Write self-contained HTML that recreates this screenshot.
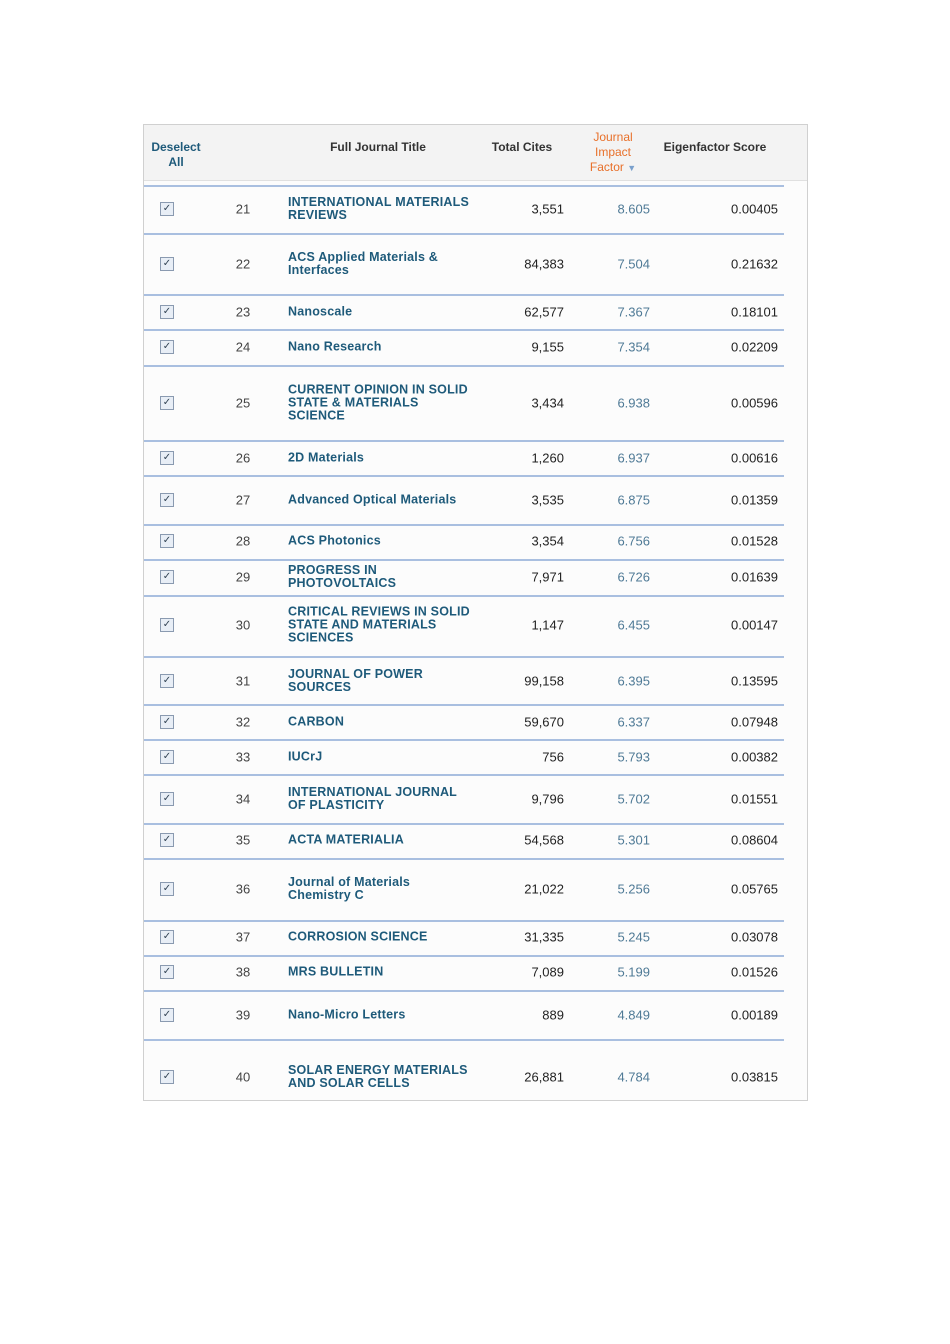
<!DOCTYPE html>
<html><head><meta charset="utf-8"><style>
body{margin:0;width:950px;height:1344px;background:#fff;position:relative;font-family:"Liberation Sans",Arial,sans-serif;}
.box{position:absolute;left:143px;top:124px;width:663px;height:975px;border:1px solid #d0d0d0;background:#fcfcfc;}
.hdr{position:absolute;left:144px;top:125px;width:663px;height:55px;background:#f3f3f3;border-bottom:1px solid #e0e0e0;}
.h{position:absolute;font-size:12px;color:#333;text-align:center;line-height:15px}
.sep{position:absolute;left:144px;width:640px;height:2px;background:#a9bfe0;}
.r{position:absolute;font-size:13px;line-height:13px;transform:translateY(-50%);}
.cb{position:absolute;left:160px;width:12px;height:12px;border:1px solid #8a9ab0;background:#e8eef6;font-size:10px;line-height:12px;text-align:center;color:#345;transform:translateY(-50%);}
.n{left:225px;width:36px;text-align:center;color:#444;font-size:13px}
.t{left:288px;color:#1e5a7a;font-weight:bold;font-size:12.5px;letter-spacing:0.2px}
.c{left:480px;width:84px;text-align:right;color:#222}
.j{left:580px;width:70px;text-align:right;color:#4f7a96}
.e{left:680px;width:98px;text-align:right;color:#222}
</style></head><body>
<div class="box"></div><div class="hdr"></div>
<div class="h" style="left:148px;top:140px;width:56px;color:#1e5a7a;font-weight:bold">Deselect<br>All</div>
<div class="h" style="left:318px;top:140px;width:120px;font-weight:bold">Full Journal Title</div>
<div class="h" style="left:484px;top:140px;width:76px;font-weight:bold">Total Cites</div>
<div class="h" style="left:578px;top:130px;width:70px;color:#e8702a">Journal<br>Impact<br>Factor <span style="color:#7aa0cc;font-size:9px">▼</span></div>
<div class="h" style="left:655px;top:140px;width:120px;font-weight:bold">Eigenfactor Score</div>
<div class="sep" style="top:185px"></div>
<div id="rows"></div>
<script>
var seps=[234,295,330,366,441,476,525,560,596,657,705,740,775,824,859,921,956,991,1040];
var d=[[209,21,"INTERNATIONAL MATERIALS<br>REVIEWS","3,551","8.605","0.00405"],
[264,22,"ACS Applied Materials &amp;<br>Interfaces","84,383","7.504","0.21632"],
[312,23,"Nanoscale","62,577","7.367","0.18101"],
[347,24,"Nano Research","9,155","7.354","0.02209"],
[403,25,"CURRENT OPINION IN SOLID<br>STATE &amp; MATERIALS<br>SCIENCE","3,434","6.938","0.00596"],
[458,26,"2D Materials","1,260","6.937","0.00616"],
[500,27,"Advanced Optical Materials","3,535","6.875","0.01359"],
[541,28,"ACS Photonics","3,354","6.756","0.01528"],
[577,29,"PROGRESS IN<br>PHOTOVOLTAICS","7,971","6.726","0.01639"],
[625,30,"CRITICAL REVIEWS IN SOLID<br>STATE AND MATERIALS<br>SCIENCES","1,147","6.455","0.00147"],
[681,31,"JOURNAL OF POWER<br>SOURCES","99,158","6.395","0.13595"],
[722,32,"CARBON","59,670","6.337","0.07948"],
[757,33,"IUCrJ","756","5.793","0.00382"],
[799,34,"INTERNATIONAL JOURNAL<br>OF PLASTICITY","9,796","5.702","0.01551"],
[840,35,"ACTA MATERIALIA","54,568","5.301","0.08604"],
[889,36,"Journal of Materials<br>Chemistry C","21,022","5.256","0.05765"],
[937,37,"CORROSION SCIENCE","31,335","5.245","0.03078"],
[972,38,"MRS BULLETIN","7,089","5.199","0.01526"],
[1015,39,"Nano-Micro Letters","889","4.849","0.00189"],
[1077,40,"SOLAR ENERGY MATERIALS<br>AND SOLAR CELLS","26,881","4.784","0.03815"]];
var h="";
seps.forEach(function(y){h+='<div class="sep" style="top:'+(y-1)+'px"></div>';});
d.forEach(function(r){var y=r[0];
h+='<div class="cb" style="top:'+y+'px">✓</div>';
h+='<div class="r n" style="top:'+y+'px">'+r[1]+'</div>';
h+='<div class="r t" style="top:'+y+'px">'+r[2]+'</div>';
h+='<div class="r c" style="top:'+y+'px">'+r[3]+'</div>';
h+='<div class="r j" style="top:'+y+'px">'+r[4]+'</div>';
h+='<div class="r e" style="top:'+y+'px">'+r[5]+'</div>';});
document.getElementById("rows").innerHTML=h;
</script>
</body></html>
